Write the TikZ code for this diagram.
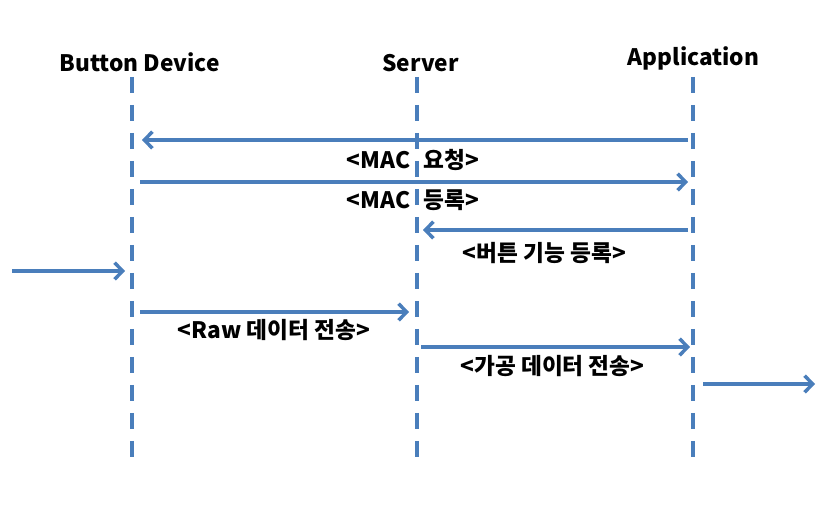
\documentclass[tikz,border=0pt]{standalone}
\usepackage{fontspec}
\setmainfont{Noto Sans CJK KR}
\usetikzlibrary{arrows.meta}
\definecolor{lineblue}{HTML}{4A7EBB}

\def\ux{0.75pt}
\def\uy{-0.75pt}

\begin{document}
\begin{tikzpicture}[x=\ux,y=\uy, font=\bfseries\fontsize{17}{20}\selectfont]
		\tikzset{
			lifeline/.style={lineblue, line width=2.4pt, dash pattern=on 12pt off 9pt},
			msg/.style={lineblue, line width=2.6pt, -{Straight Barb[length=6pt,width=12.5pt]}},
			head/.style={anchor=base, inner sep=0pt},
			msgtext/.style={anchor=base, inner sep=0pt},
		}
		\useasboundingbox (0,0) rectangle (829,505);

		% participants
		\node[head] (dev) at (139.5,72) {Button Device};
		\node[head] (srv) at (420.5,72) {Server};
		\node[head] (app) at (693.5,66) {Application};

		\foreach \n/\x in {dev/132,srv/417,app/693}{
			\coordinate (\n top) at (\x,77);
			\coordinate (\n bot) at (\x,457);
			\draw[lifeline] (\n top) -- (\n bot);
			\foreach \i/\y in {1/140,2/182,3/230,4/271,5/312,6/347,7/384}{
				\coordinate (\n\i) at (\x,\y);
			}
		}
		\coordinate (in4) at (12,271);
		\coordinate (out7) at (815,384);

		% messages
		\draw[msg, shorten <=3.75pt, shorten >=7.5pt] (app1) -- (dev1);
		\draw[msg, shorten <=6pt, shorten >=3.75pt] (dev2) -- (app2);
		\draw[msg, shorten <=3.75pt, shorten >=4.5pt] (app3) -- (srv3);
		\draw[msg, shorten >=5.25pt] (in4) -- (dev4);
		\draw[msg, shorten <=6pt, shorten >=6pt] (dev5) -- (srv5);
		\draw[msg, shorten <=3pt, shorten >=2.25pt] (srv6) -- (app6);
		\draw[msg, shorten <=7.5pt] (app7) -- (out7);

		\node[msgtext] (t1) at (413,169) {<MAC\hspace{0.6em}요청>};
		\node[msgtext] (t2) at (413,209) {<MAC\hspace{0.6em}등록>};
		\node[msgtext] (t3) at (544.5,262) {<버튼 기능 등록>};
		\node[msgtext] (t5) at (274,339) {<Raw 데이터 전송>};
		\node[msgtext] (t6) at (552.5,375) {<가공 데이터 전송>};
\end{tikzpicture}
\end{document}
